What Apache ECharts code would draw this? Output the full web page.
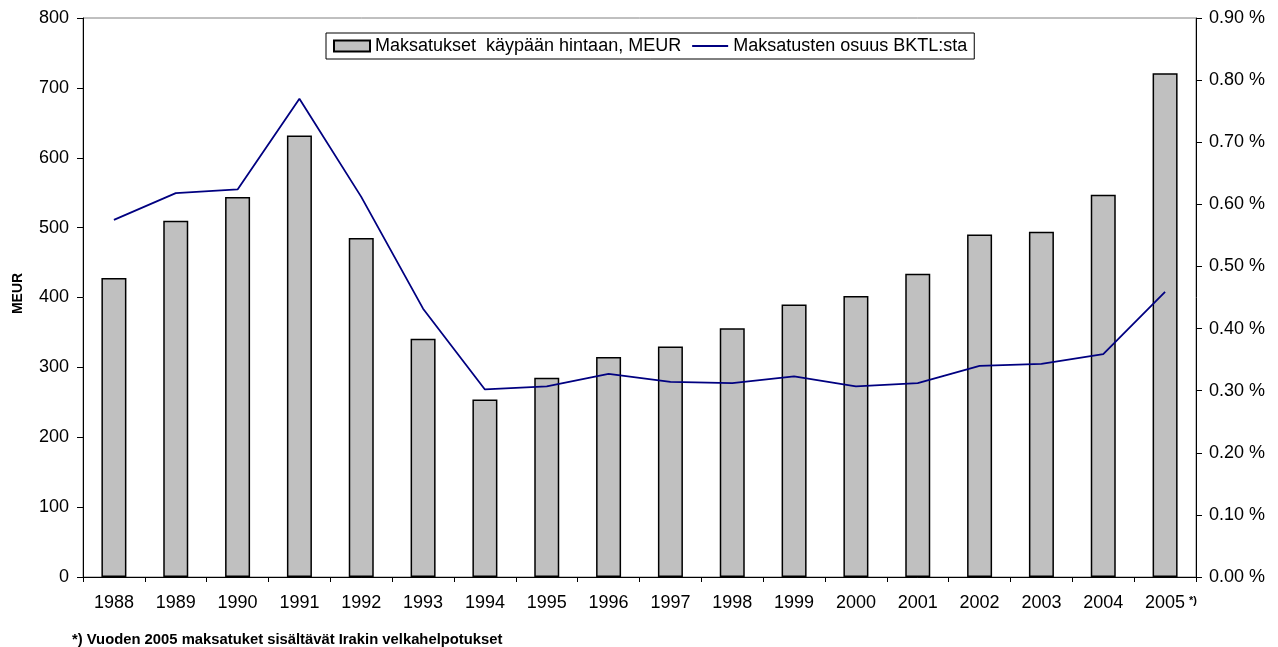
<!DOCTYPE html>
<html>
<head>
<meta charset="utf-8">
<script src="https://cdn.jsdelivr.net/npm/echarts@6/dist/echarts.min.js"></script>
<style>
  html, body { margin: 0; padding: 0; background: #fff; }
  #chart { width: 1278px; height: 647px; }
</style>
</head>
<body>
<div id="chart"></div>
<script>
// vuodet
const years = ["1988", "1989", "1990", "1991", "1992", "1993", "1994", "1995", "1996",
  "1997", "1998", "1999", "2000", "2001", "2002", "2003", "2004", "2005"];
// maksatukset, MEUR
const payments = [428, 510, 544, 632, 485, 341, 254, 285, 315, 330, 356, 390, 402, 434, 490, 494, 547, 721];
// osuus BKTL:sta, %
const shareOfGni = [0.575, 0.618, 0.624, 0.77, 0.612, 0.432, 0.302, 0.307, 0.327, 0.314, 0.312, 0.323,
  0.307, 0.312, 0.340, 0.343, 0.359, 0.459];

const font = "'Liberation Sans', Arial, sans-serif";

let myChart = echarts.init(document.getElementById("chart"));
let option = {
  animation: false,
  textStyle: { fontFamily: font },
  grid: {
    left: 83,
    right: 82,
    top: 18,
    bottom: 70,
    show: true,
    borderColor: "#808080",
    borderWidth: 1
  },
  legend: {
    left: 326,
    top: 33,
    padding: [4, 7, 4, 7],
    borderColor: "#000",
    borderWidth: 1,
    backgroundColor: "#fff",
    itemWidth: 36,
    itemHeight: 11,
    itemGap: 11,
    textStyle: { fontSize: 18, color: "#000", fontFamily: font },
    data: [
      { name: "Maksatukset  käypään hintaan, MEUR", icon: "rect" },
      { name: "Maksatusten osuus BKTL:sta", icon: "path://M0,0 L36,0 L36,2 L0,2 Z" }
    ]
  },
  xAxis: {
    type: "category",
    data: years,
    axisLine: { lineStyle: { color: "#000", width: 1 } },
    axisTick: { show: true, length: 5, lineStyle: { color: "#000" } },
    axisLabel: { color: "#000", fontSize: 18, margin: 17, fontFamily: font }
  },
  yAxis: [
    {
      type: "value",
      min: 0,
      max: 800,
      interval: 100,
      name: "MEUR",
      nameLocation: "middle",
      nameRotate: 90,
      nameGap: 58,
      nameTextStyle: { fontSize: 14, fontWeight: "bold", color: "#000", fontFamily: font, padding: [0, 0, 0, 8] },
      splitLine: { show: false },
      axisLine: { show: true, lineStyle: { color: "#000" } },
      axisTick: { show: true, length: 6, lineStyle: { color: "#000" } },
      axisLabel: { color: "#000", fontSize: 18, margin: 14, fontFamily: font }
    },
    {
      type: "value",
      min: 0,
      max: 0.9,
      interval: 0.1,
      position: "right",
      splitLine: { show: false },
      axisLine: { show: true, lineStyle: { color: "#000" } },
      axisTick: { show: true, length: 6, lineStyle: { color: "#000" } },
      axisLabel: {
        color: "#000",
        fontSize: 18,
        margin: 13,
        fontFamily: font,
        formatter: v => v.toFixed(2) + " %"
      }
    }
  ],
  series: [
    {
      name: "Maksatukset  käypään hintaan, MEUR",
      type: "bar",
      data: payments,
      barWidth: 25,
      itemStyle: { color: "#c0c0c0", borderColor: "#000", borderWidth: 1.5 }
    },
    {
      name: "Maksatusten osuus BKTL:sta",
      type: "line",
      yAxisIndex: 1,
      data: shareOfGni,
      symbol: "none",
      lineStyle: { color: "#000080", width: 1.8 },
      itemStyle: { color: "#000080" }
    }
  ],
  graphic: [
    {
      type: "text",
      left: 1189,
      top: 595,
      style: { text: "*)", font: "bold 11px " + font, fill: "#000" }
    },
    {
      type: "text",
      left: 72,
      top: 632,
      style: {
        text: "*) Vuoden 2005 maksatuket sisältävät Irakin velkahelpotukset",
        font: "bold 14.8px " + font,
        fill: "#000"
      }
    }
  ]
};
myChart.setOption(option);
</script>
</body>
</html>
